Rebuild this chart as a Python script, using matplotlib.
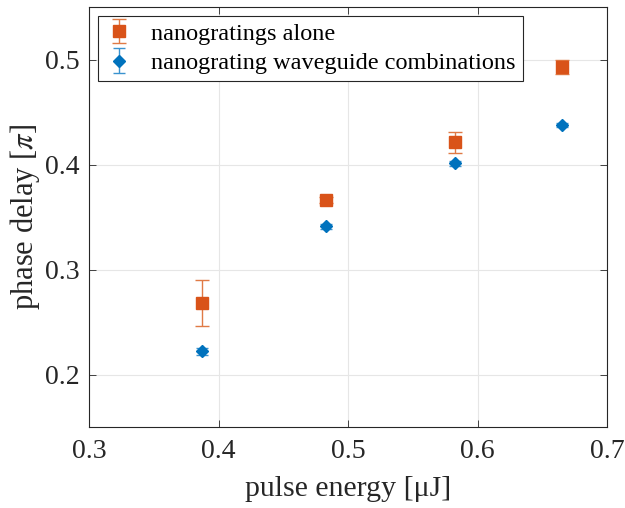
import numpy as np
import matplotlib.pyplot as plt

plt.rcParams['font.family'] = ['Liberation Serif', 'DejaVu Serif']
plt.rcParams['mathtext.fontset'] = 'stix'

# nanogratings alone
x_ng = [0.387, 0.483, 0.583, 0.665]
y_ng = [0.268, 0.366, 0.421, 0.493]
e_ng = [0.022, 0.003, 0.010, 0.007]

# nanograting waveguide combinations
x_wg = [0.387, 0.483, 0.583, 0.665]
y_wg = [0.222, 0.341, 0.401, 0.438]
e_wg = [0.003, 0.002, 0.002, 0.002]

orange = '#D95319'
blue = '#0072BD'

fig = plt.figure(figsize=(6.25, 5.08), dpi=100)
ax = fig.add_axes([89/625, 1-427/508, (607-89)/625, (427-7)/508])

ax.errorbar(x_ng, y_ng, yerr=e_ng, fmt='s', color=orange, ms=8.5, capsize=5,
            elinewidth=1.0, capthick=1.0, ecolor='#e07a45', label='nanogratings alone')
ax.errorbar(x_wg, y_wg, yerr=e_wg, fmt='D', color=blue, ms=6.5, capsize=4,
            elinewidth=1.0, capthick=1.0, ecolor='#3a93cf',
            label='nanograting waveguide combinations')

ax.set_xlim(0.3, 0.7)
ax.set_ylim(0.15, 0.55)
ax.set_xticks([0.3, 0.4, 0.5, 0.6, 0.7])
ax.set_yticks([0.2, 0.3, 0.4, 0.5])
ax.grid(True, color='#e6e6e6', lw=0.8)
ax.set_axisbelow(True)
ax.tick_params(direction='in', top=True, right=True, labelsize=20, colors='#262626',
               length=5, width=0.6, pad=9)
ax.tick_params(axis='y', pad=7)
for s in ax.spines.values():
    s.set_color('#262626')
    s.set_linewidth(0.8)

ax.set_xlabel('pulse energy [μJ]', fontsize=21.5, color='#262626', labelpad=8)
ax.set_ylabel(r'phase delay [$\pi$]', fontsize=22, color='#262626', labelpad=2)

leg = ax.legend(loc='upper left', fontsize=17.5, fancybox=False, framealpha=1,
                edgecolor='#262626', borderaxespad=0.35, handletextpad=0.7,
                labelspacing=0.3, borderpad=0.3, handlelength=1.2)
leg.get_frame().set_linewidth(0.8)

fig.savefig('out.png', dpi=100)
